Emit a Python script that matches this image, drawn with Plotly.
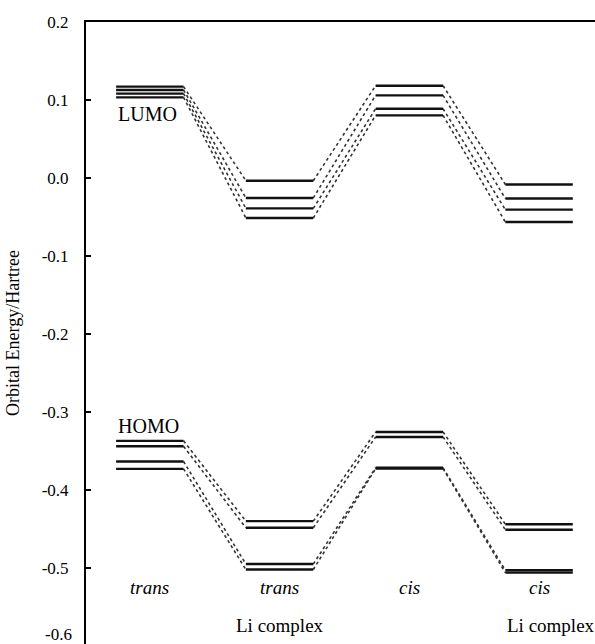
import plotly.graph_objects as go

# ---- data -------------------------------------------------------------
state_names = ["trans", "trans", "cis", "cis"]
state_notes = ["", "Li complex", "", "Li complex"]
note_shift = [0, 0, 0, 12]
state_pos = [1, 2, 3, 4]

# LUMO energies (Hartree) for four compounds, per state
lumo_a = [0.1172, -0.0035, 0.1183, -0.0083]
lumo_b = [0.1129, -0.0256, 0.1059, -0.0263]
lumo_c = [0.1082, -0.0390, 0.0888, -0.0406]
lumo_d = [0.1034, -0.0513, 0.0803, -0.0564]

# HOMO energies (Hartree)
homo_a = [-0.3370, -0.4400, -0.3256, -0.4440]
homo_b = [-0.3440, -0.4485, -0.3320, -0.4510]
homo_c = [-0.3635, -0.4950, -0.3715, -0.5030]
homo_d = [-0.3730, -0.5020, -0.3727, -0.5060]

y_ticks = [0.2, 0.1, 0.0, -0.1, -0.2, -0.3, -0.4, -0.5]
y_tick_text = ["0.2", "0.1", "0.0", "-0.1", "-0.2", "-0.3", "-0.4", "-0.5"]

HALF = 0.26
Y_RANGE = [-0.5975, 0.2]
X_RANGE = [0.508, 4.431]
SERIF = "Liberation Serif"

fig = go.Figure()


def add_series(vals):
    lx, ly, cx, cy = [], [], [], []
    for i, (p, v) in enumerate(zip(state_pos, vals)):
        lx += [p - HALF, p + HALF, None]
        ly += [v, v, None]
        if i + 1 < len(vals):
            cx += [p + HALF, state_pos[i + 1] - HALF, None]
            cy += [v, vals[i + 1], None]
    fig.add_trace(go.Scatter(x=cx, y=cy, mode="lines", showlegend=False,
                             line=dict(color="#333", width=1.6, dash="dot"),
                             hoverinfo="skip"))
    fig.add_trace(go.Scatter(x=lx, y=ly, mode="lines", showlegend=False,
                             line=dict(color="#111", width=2.4),
                             hoverinfo="skip"))


for s in [lumo_a, lumo_b, lumo_c, lumo_d, homo_a, homo_b, homo_c, homo_d]:
    add_series(s)

annotations = []
# level group labels
annotations.append(dict(x=state_pos[0] - HALF, y=lumo_d[0], xref="x", yref="y",
                        text="LUMO", showarrow=False, xanchor="left", yanchor="top",
                        yshift=-4, font=dict(family=SERIF, size=20, color="#000")))
annotations.append(dict(x=state_pos[0] - HALF, y=homo_a[0], xref="x", yref="y",
                        text="HOMO", showarrow=False, xanchor="left", yanchor="bottom",
                        yshift=2, font=dict(family=SERIF, size=20, color="#000")))
# state labels
for p, name, note, sh in zip(state_pos, state_names, state_notes, note_shift):
    annotations.append(dict(x=p, y=-0.525, xref="x", yref="y", text="<i>%s</i>" % name,
                            showarrow=False, font=dict(family=SERIF, size=19, color="#000")))
    if note:
        annotations.append(dict(x=p, y=-0.574, xref="x", yref="y", xshift=sh,
                                text=note, showarrow=False,
                                font=dict(family=SERIF, size=19, color="#000")))
# cut-off bottom tick label
annotations.append(dict(x=0, y=(-0.6 - Y_RANGE[0]) / (Y_RANGE[1] - Y_RANGE[0]),
                        xref="paper", yref="paper", text="-0.6", showarrow=False,
                        xanchor="right", xshift=-12,
                        font=dict(family=SERIF, size=17, color="#000")))
# y-axis title
annotations.append(dict(x=0, y=0.5, xref="paper", yref="paper",
                        text="Orbital Energy/Hartree", showarrow=False, textangle=-90,
                        xanchor="center", xshift=-73,
                        font=dict(family=SERIF, size=18, color="#000")))

fig.update_layout(
    width=595, height=644,
    margin=dict(l=86, r=0, t=22, b=0),
    paper_bgcolor="white", plot_bgcolor="white",
    annotations=annotations,
    xaxis=dict(range=X_RANGE, side="top", showline=True, linecolor="#000", linewidth=2,
               showticklabels=False, ticks="", showgrid=False, zeroline=False),
    yaxis=dict(range=Y_RANGE, showline=True, linecolor="#000", linewidth=2,
               tickvals=y_ticks, ticktext=y_tick_text, ticks="inside", ticklen=5,
               tickwidth=1.5, tickcolor="#000", ticklabelstandoff=12,
               showgrid=False, zeroline=False,
               tickfont=dict(family=SERIF, size=17, color="#000")),
)

fig.write_html("out.html")
